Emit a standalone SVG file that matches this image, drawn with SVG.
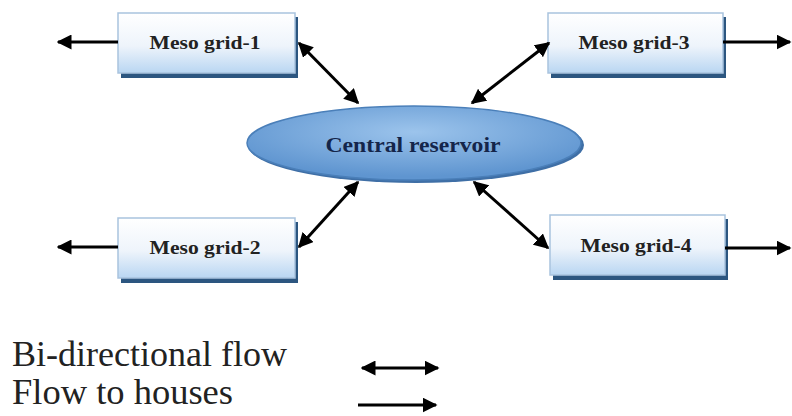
<svg xmlns="http://www.w3.org/2000/svg" width="792" height="416" viewBox="0 0 792 416">
<defs>
<linearGradient id="boxg" x1="0" y1="0" x2="0" y2="1">
<stop offset="0" stop-color="#ffffff"/>
<stop offset="0.55" stop-color="#eef4fb"/>
<stop offset="1" stop-color="#b9d6f2"/>
</linearGradient>
<radialGradient id="ellg" cx="0.5" cy="0.35" r="0.6">
<stop offset="0" stop-color="#9cc4ec"/>
<stop offset="1" stop-color="#5f95d0"/>
</radialGradient>
<marker id="ah" viewBox="0 0 10 10" refX="9" refY="5" markerWidth="5" markerHeight="5" orient="auto-start-reverse" markerUnits="strokeWidth">
<path d="M0,0 L10,5 L0,10 Z" fill="#000"/>
</marker>
<style>
.box{fill:url(#boxg);stroke:#a9c3de;stroke-width:1.5}
.shadow{fill:#2c5680}
.lbl{font-family:"Liberation Serif",serif;font-weight:bold;font-size:18px;fill:#222;text-anchor:middle}
.ln{stroke:#000;stroke-width:3;fill:none}
.leg{font-family:"Liberation Serif",serif;font-size:35px;fill:#222}
</style>
</defs>
<rect width="792" height="416" fill="#fff"/>
<g id="meso1">
<rect class="shadow" x="121" y="17" width="177" height="61"/>
<rect class="box" x="118" y="13" width="177" height="60"/>
<text class="lbl" x="205" y="49" textLength="111" lengthAdjust="spacingAndGlyphs">Meso grid-1</text>
</g>
<g id="meso3">
<rect class="shadow" x="551" y="17" width="175" height="61"/>
<rect class="box" x="548" y="13" width="175" height="60"/>
<text class="lbl" x="634" y="49" textLength="111" lengthAdjust="spacingAndGlyphs">Meso grid-3</text>
</g>
<g id="meso2">
<rect class="shadow" x="121" y="222" width="177" height="61"/>
<rect class="box" x="118" y="218" width="177" height="60"/>
<text class="lbl" x="205" y="254" textLength="111" lengthAdjust="spacingAndGlyphs">Meso grid-2</text>
</g>
<g id="meso4">
<rect class="shadow" x="553" y="219" width="175" height="61"/>
<rect class="box" x="550" y="215" width="175" height="60"/>
<text class="lbl" x="636" y="252" textLength="111" lengthAdjust="spacingAndGlyphs">Meso grid-4</text>
</g>
<g id="central">
<ellipse cx="416" cy="145" rx="168" ry="38" fill="#3f6fa6"/>
<ellipse cx="414" cy="143" rx="167" ry="37" fill="url(#ellg)" stroke="#4a7fb9" stroke-width="1.5"/>
<text x="413" y="152" font-family="Liberation Serif,serif" font-weight="bold" font-size="21" fill="#14254a" text-anchor="middle" textLength="175" lengthAdjust="spacingAndGlyphs">Central reservoir</text>
</g>
<g id="connectors">
<line class="ln" x1="118" y1="42" x2="58" y2="42" marker-end="url(#ah)"/>
<line class="ln" x1="723" y1="42" x2="790" y2="42" marker-end="url(#ah)"/>
<line class="ln" x1="118" y1="247" x2="58" y2="247" marker-end="url(#ah)"/>
<line class="ln" x1="725" y1="248" x2="790" y2="248" marker-end="url(#ah)"/>
<line class="ln" x1="299" y1="43" x2="358" y2="103" marker-start="url(#ah)" marker-end="url(#ah)"/>
<line class="ln" x1="549" y1="43" x2="472" y2="103" marker-start="url(#ah)" marker-end="url(#ah)"/>
<line class="ln" x1="299" y1="247" x2="358" y2="182" marker-start="url(#ah)" marker-end="url(#ah)"/>
<line class="ln" x1="548" y1="248" x2="474" y2="182" marker-start="url(#ah)" marker-end="url(#ah)"/>
<line class="ln" x1="362" y1="368" x2="438" y2="368" marker-start="url(#ah)" marker-end="url(#ah)"/>
<line class="ln" x1="358" y1="405" x2="436" y2="405" marker-end="url(#ah)"/>
</g>
<g id="legend">
<text class="leg" x="12" y="366" textLength="275" lengthAdjust="spacingAndGlyphs">Bi-directional flow</text>
<text class="leg" x="12" y="404" textLength="221" lengthAdjust="spacingAndGlyphs">Flow to houses</text>
</g>
</svg>
